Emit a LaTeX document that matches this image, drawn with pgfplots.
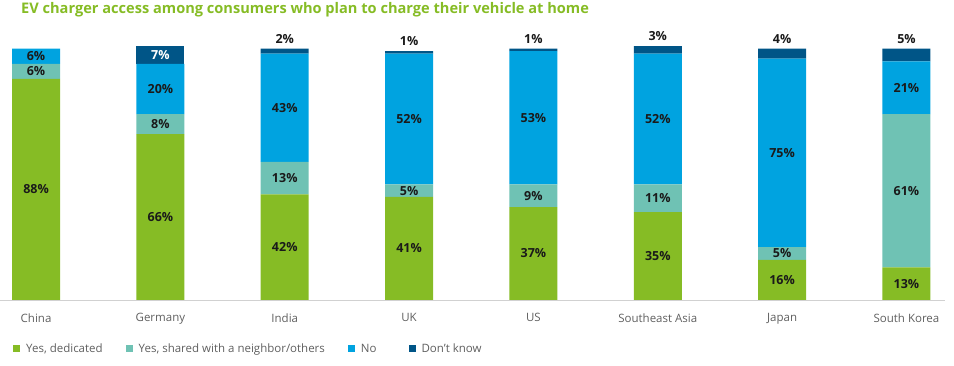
\documentclass[border=0pt]{standalone}
\usepackage{pgfplots}
\pgfplotsset{compat=1.18}
\usepackage{fontspec}
\setmainfont{Open Sans}
\definecolor{cgreen}{HTML}{86BC25}
\definecolor{cteal}{HTML}{6FC2B4}
\definecolor{cblue}{HTML}{00A3E0}
\definecolor{cdark}{HTML}{005587}
\definecolor{ctext}{HTML}{1A1A1A}
\definecolor{cgray}{HTML}{5F5F5F}
\begin{document}
\begin{tikzpicture}
\useasboundingbox (0,0) rectangle (954pt,366pt);
\begin{axis}[
  at={(0pt,66pt)}, anchor=south west,
  scale only axis, width=945pt, height=251.3pt,
  ybar stacked, bar width=0.386,
  xmin=-0.29, xmax=7.31, ymin=0, ymax=100,
  axis x line=bottom, axis y line=none,
  axis line style={draw=black!18, line width=0.8pt, -},
  xtick=data,
  xticklabels={China,Germany,India,UK,US,Southeast Asia,Japan,South Korea},
  xtick style={draw=none},
  xticklabel style={font=\fontsize{11.5}{13}\selectfont, text=cgray, yshift=-8pt},
  ytick=\empty,
  clip=false,
  /pgf/number format/assume math mode=true,
  title={EV charger access among consumers who plan to charge their vehicle at home},
  title style={font=\bfseries\fontsize{14.6}{17}\selectfont, text=cgreen, anchor=west, at={(0,1)}, xshift=21pt, yshift=32.7pt, inner sep=0pt},
  legend columns=-1,
  legend cell align=left,
  legend style={at={(0,0)}, anchor=west, xshift=10pt, yshift=-49pt, draw=none, fill=none,
    font=\fontsize{11.5}{13}\selectfont, text=cgray,
    /tikz/every even column/.append style={column sep=21pt}},
  legend image code/.code={\fill[#1] (0pt,-3.5pt) rectangle (7pt,3.5pt); \path (11pt,0pt);},
  mylabelshift/.style={},
  visualization depends on={rawy \as \rawy},
  nodes near coords={\ifdim\rawy pt>0.5pt\pgfmathprintnumber{\rawy}\%\fi},
  every node near coord/.append style={anchor=center, inner sep=0pt,
    font=\bfseries\fontsize{12.5}{14}\selectfont, text=ctext,
    /pgfplots/mylabelshift},
]
\addplot[fill=cgreen, draw=none] coordinates {(0,88) (1,66) (2,42) (3,41) (4,37) (5,35) (6,16) (7,13)};
\addlegendentry{Yes, dedicated}
\addplot[fill=cteal, draw=none] coordinates {(0,6) (1,8) (2,13) (3,5) (4,9) (5,11) (6,5) (7,61)};
\addlegendentry{Yes, shared with a neighbor/others}
\addplot[fill=cblue, draw=none] coordinates {(0,6) (1,20) (2,43) (3,52) (4,53) (5,52) (6,75) (7,21)};
\addlegendentry{\mbox{No}\hspace*{9pt}\mbox{}}
\addplot[fill=cdark, draw=none, mylabelshift/.style={shift={(axis direction cs:0,\rawy/2)}, yshift=5pt}, every node near coord/.append style={anchor=south}] coordinates {(0,0) (1,0) (2,2) (3,1) (4,1) (5,3) (6,4) (7,5)};
\addlegendentry{Don’t know}
\addplot[fill=cdark, draw=none, every node near coord/.append style={text=white}] coordinates {(0,0) (1,7) (2,0) (3,0) (4,0) (5,0) (6,0) (7,0)};
\end{axis}
\end{tikzpicture}
\end{document}
